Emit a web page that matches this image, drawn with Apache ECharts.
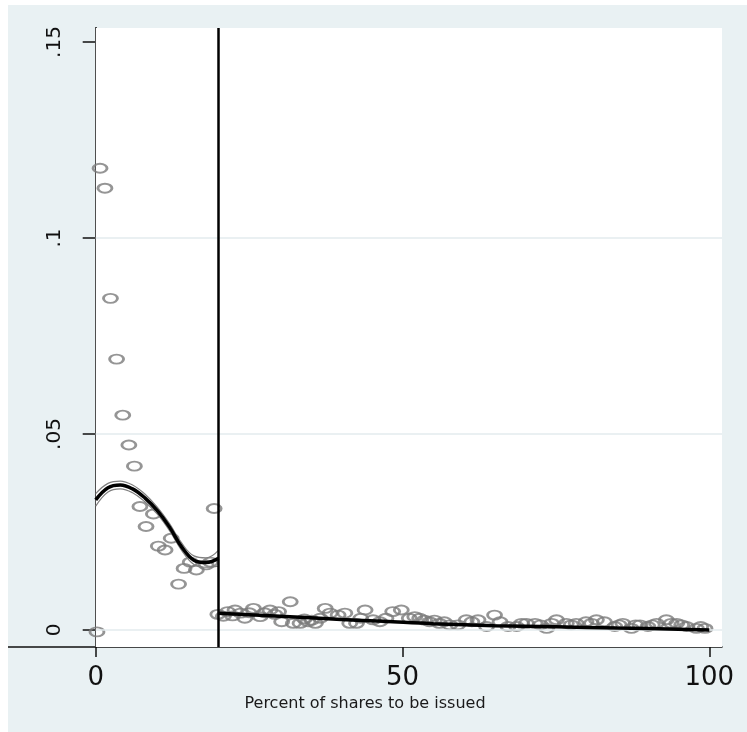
<!DOCTYPE html>
<html>
<head>
<meta charset="utf-8">
<title>Percent of shares to be issued</title>
<script src="https://cdn.jsdelivr.net/npm/echarts@6.0.0/dist/echarts.min.js"></script>
<style>
  html, body { margin: 0; padding: 0; background: #fff; }
  #chart { position: absolute; left: 8px; top: 5px; width: 739px; height: 727px; }
</style>
</head>
<body>
<div id="chart"></div>
<script>
// binned scatter (percent of shares, share of deals)
const binX = [
  0.2, 0.7, 1.5, 2.4, 3.4, 4.4, 5.4, 6.3, 7.2, 8.2, 9.4, 10.2, 11.3, 12.3, 13.5, 14.4, 15.4, 16.4, 18.0, 18.7, 19.3,
  19.9, 20.8, 21.5, 22.3, 22.7, 23.6, 24.3, 25.0, 25.7, 26.8, 27.5, 28.4, 29.2, 29.8, 30.3, 31.7, 32.2, 33.3,
  34.0, 34.6, 35.2, 35.8, 36.6, 37.4, 38.2, 39.5, 40.6, 41.4, 42.5, 43.2, 43.9, 45.2, 46.3, 47.3, 48.4, 49.8,
  51.1, 52.0, 52.8, 53.6, 54.4, 55.2, 56.0, 56.8, 57.7, 59.0, 60.4, 61.3, 62.3, 63.7, 65.0, 65.9, 67.2, 68.6,
  69.4, 70.2, 71.6, 72.5, 73.5, 74.3, 75.1, 76.7, 77.5, 78.3, 79.9, 80.8, 81.6, 82.9, 84.6, 85.3, 85.9, 87.3,
  88.0, 88.7, 90.0, 90.7, 91.4, 93.0, 93.8, 94.7, 95.5, 96.3, 97.9, 98.6, 99.3
];
const binShare = [
  -0.0005, 0.1178, 0.1127, 0.0846, 0.0691, 0.0548, 0.0472, 0.0418, 0.0315, 0.0264, 0.0296, 0.0214, 0.0204, 0.0234, 0.0117, 0.0157, 0.0173, 0.0153, 0.0166, 0.0173, 0.0310,
  0.0040, 0.0035, 0.0047, 0.0036, 0.0051, 0.0043, 0.0030, 0.0044, 0.0055, 0.0034, 0.0044, 0.0051, 0.0040, 0.0047, 0.0021, 0.0072, 0.0017, 0.0017,
  0.0028, 0.0021, 0.0025, 0.0017, 0.0030, 0.0055, 0.0043, 0.0038, 0.0043, 0.0017, 0.0017, 0.0030, 0.0051, 0.0026, 0.0021, 0.0030, 0.0047, 0.0051,
  0.0030, 0.0034, 0.0030, 0.0025, 0.0021, 0.0025, 0.0017, 0.0021, 0.0013, 0.0013, 0.0026, 0.0021, 0.0026, 0.0009, 0.0038, 0.0021, 0.0009, 0.0009,
  0.0017, 0.0017, 0.0017, 0.0013, 0.0004, 0.0017, 0.0026, 0.0017, 0.0013, 0.0017, 0.0021, 0.0017, 0.0026, 0.0021, 0.0009, 0.0013, 0.0017, 0.0004,
  0.0013, 0.0013, 0.0009, 0.0013, 0.0017, 0.0026, 0.0017, 0.0017, 0.0013, 0.0009, 0.0004, 0.0009, 0.0004
];

// local fit below the 20% cutoff, with its confidence band
const fitLeftX = [0, 2, 4, 6, 8, 10, 12, 14, 16, 18, 20];
const fitLeftY = [0.0332, 0.0363, 0.0370, 0.0360, 0.0337, 0.0305, 0.0263, 0.0212, 0.0178, 0.0172, 0.0183];
const bandUpper = [0.0348, 0.0374, 0.0380, 0.0370, 0.0347, 0.0314, 0.0272, 0.0222, 0.0189, 0.0184, 0.0203];
const bandLower = [0.0316, 0.0352, 0.0360, 0.0350, 0.0327, 0.0296, 0.0254, 0.0203, 0.0167, 0.0160, 0.0163];

// local fit above the cutoff
const fitRightX = [20, 30, 40, 47, 55, 65, 75, 85, 90, 100];
const fitRightY = [0.0043, 0.0035, 0.0027, 0.0022, 0.0016, 0.0011, 0.0008, 0.0005, 0.0004, 0.0000];

const cutoff = 20;
const xTicks = [0, 50, 100];
const yTicks = [0, 0.05, 0.1, 0.15];
const yTickLabels = ["0", ".05", ".1", ".15"];
const xName = "Percent of shares to be issued";

const X_MIN = -14.3, X_MAX = 102.07;
const Y_MIN = -0.00434, Y_MAX = 0.15357;

const zip = (xs, ys) => xs.map((x, i) => [x, ys[i]]);

const chart = echarts.init(document.getElementById("chart"));

const axisColor = "#111";
const gridColor = "#e3ebee";
const dotColor = "#7a7a7a";

chart.setOption({
  animation: false,
  backgroundColor: "#e9f1f3",
  grid: { left: 0, right: 25, top: 23, bottom: 85, outerBoundsMode: "none", containLabel: false },
  xAxis: {
    type: "value",
    min: X_MIN,
    max: X_MAX,
    name: xName,
    nameLocation: "middle",
    nameGap: 47,
    nameTextStyle: { fontFamily: "DejaVu Sans", fontSize: 16, color: "#1a1a1a" },
    axisLine: { onZero: false, lineStyle: { color: axisColor, width: 1.5 } },
    axisTick: { customValues: xTicks, length: 10, lineStyle: { color: axisColor, width: 1.5 } },
    axisLabel: {
      customValues: xTicks,
      margin: 18,
      fontFamily: "DejaVu Sans",
      fontSize: 26,
      color: "#111"
    },
    splitLine: { show: false }
  },
  yAxis: {
    type: "value",
    min: Y_MIN,
    max: Y_MAX,
    // y axis sits on x = 0, inside the grid
    offset: -87.7,
    axisLine: { onZero: false, lineStyle: { color: axisColor, width: 2 } },
    axisTick: { customValues: yTicks, length: 13, lineStyle: { color: axisColor, width: 1.5 } },
    axisLabel: {
      customValues: yTicks,
      rotate: 90,
      margin: 31,
      fontFamily: "DejaVu Sans",
      fontSize: 20,
      color: "#111",
      formatter: v => yTickLabels[yTicks.findIndex(t => Math.abs(t - v) < 1e-9)]
    },
    splitLine: { show: false }
  },
  series: [
    {
      // plot region and gridlines
      type: "line",
      data: [],
      z: 1,
      silent: true,
      markArea: {
        silent: true,
        itemStyle: { color: "#ffffff" },
        data: [[{ coord: [0, Y_MIN] }, { coord: [X_MAX, Y_MAX] }]]
      },
      markLine: {
        silent: true,
        symbol: "none",
        label: { show: false },
        lineStyle: { color: gridColor, width: 1.5, type: "solid" },
        data: yTicks.slice(0, 3).map(t => [{ coord: [0, t] }, { coord: [X_MAX, t] }])
      }
    },
    {
      type: "scatter",
      z: 3,
      symbol: "circle",
      symbolSize: [14, 9],
      itemStyle: { color: "rgba(0,0,0,0)", borderColor: dotColor, borderWidth: 2.3 },
      data: zip(binX, binShare)
    },
    {
      type: "line",
      z: 4,
      smooth: 0.4,
      symbol: "none",
      lineStyle: { color: "#808080", width: 1.2 },
      data: zip(fitLeftX, bandUpper)
    },
    {
      type: "line",
      z: 4,
      smooth: 0.4,
      symbol: "none",
      lineStyle: { color: "#808080", width: 1.2 },
      data: zip(fitLeftX, bandLower)
    },
    {
      type: "line",
      z: 5,
      smooth: 0.4,
      symbol: "none",
      lineStyle: { color: "#000", width: 3.5 },
      data: zip(fitLeftX, fitLeftY),
      markLine: {
        silent: true,
        symbol: "none",
        label: { show: false },
        lineStyle: { color: "#000", width: 2.5, type: "solid" },
        data: [{ xAxis: cutoff }]
      }
    },
    {
      type: "line",
      z: 5,
      smooth: 0.4,
      symbol: "none",
      lineStyle: { color: "#000", width: 3.5 },
      data: zip(fitRightX, fitRightY)
    }
  ]
});
</script>
</body>
</html>
